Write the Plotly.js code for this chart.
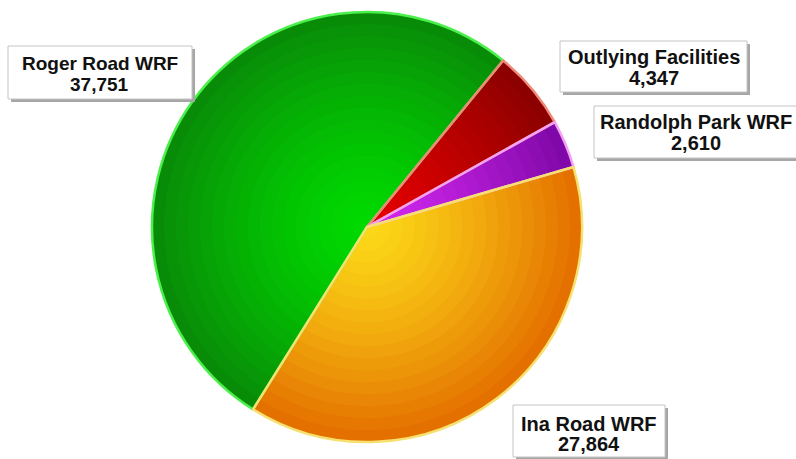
<!DOCTYPE html>
<html>
<head>
<meta charset="utf-8">
<script src="https://cdn.plot.ly/plotly-3.0.1.min.js"></script>
<style>html,body{margin:0;padding:0;background:#fff;}#chart{width:796px;height:459px;}</style>
</head>
<body>
<div id="chart"></div>
<script>
// ---- data ----
const labels = ["Roger Road WRF", "Outlying Facilities", "Randolph Park WRF", "Ina Road WRF"];
const values = [37751, 4347, 2610, 27864];

// ---- styling ----
const centerColors = [[0,220,0],[232,0,0],[212,40,240],[252,218,24]];
const edgeColors   = [[8,140,8],[140,0,0],[128,8,168],[228,112,0]];
const borderColors = ["#4cf04c", "#f08a78", "#f4a0f4", "#f6e070"];
const W = 796, H = 459, CX = 367, CY = 227, R = 215;
const ROT = -148;
// label boxes in pixels: x0,x1,y0,y1 and text line centres
const boxes = [
  {x0:8,   x1:192, y0:46,  y1:99,  l1:64,    l2:85,    fs:19},
  {x0:560, x1:747, y0:41,  y1:92,  l1:57.5,  l2:77.5,  fs:20},
  {x0:594, x1:800, y0:106, y1:158, l1:122.5, l2:142.5, fs:20},
  {x0:513, x1:665, y0:405, y1:457, l1:423.5, l2:444,   fs:20}
];

function dom(f){
  const r = R*f;
  return {x:[(CX-r)/W,(CX+r)/W], y:[1-(CY+r)/H, 1-(CY-r)/H]};
}
function mix(a,b,t){
  return 'rgb('+a.map((v,i)=>Math.round(v+(b[i]-v)*t)).join(',')+')';
}
const px = x => x/W, py = y => 1 - y/H;

const traces = [];
const N = 18;
for (let k=0;k<N;k++){
  const f = 1 - k/N;
  const t = Math.pow(f,1.3);
  traces.push({
    type:'pie', labels:labels, values:values, sort:false, direction:'clockwise',
    rotation:ROT, domain:dom(f), textinfo:'none', hoverinfo:'skip', showlegend:false,
    marker:{colors:centerColors.map((c,i)=>mix(c,edgeColors[i],t)), line:{width:0}}
  });
}
traces.push({
  type:'pie', labels:labels, values:values, sort:false, direction:'clockwise',
  rotation:ROT, domain:dom(1), textinfo:'none', hoverinfo:'skip', showlegend:false,
  marker:{colors:labels.map(()=> 'rgba(0,0,0,0)'), line:{width:2.5, color:borderColors}}
});

const shapes = [];
const annotations = [];
labels.forEach((lab,i)=>{
  const b = boxes[i];
  shapes.push({type:'rect', xref:'paper', yref:'paper', layer:'above',
    x0:px(b.x0+3), x1:px(b.x1+3), y0:py(b.y1+3), y1:py(b.y0+3),
    fillcolor:'#a6a6a6', line:{width:0}});
  shapes.push({type:'rect', xref:'paper', yref:'paper', layer:'above',
    x0:px(b.x0), x1:px(b.x1), y0:py(b.y1), y1:py(b.y0),
    fillcolor:'#ffffff', line:{width:1, color:'#c4c4c4'}});
  const cx = px((b.x0 + Math.min(b.x1, 796+1))/2);
  const font = {family:'Liberation Sans, Arial, sans-serif', size:b.fs, color:'#111111'};
  annotations.push({xref:'paper', yref:'paper', x:cx, y:py(b.l1), xanchor:'center', yanchor:'middle',
    showarrow:false, text:'<b>'+lab+'</b>', font:font});
  annotations.push({xref:'paper', yref:'paper', x:cx, y:py(b.l2), xanchor:'center', yanchor:'middle',
    showarrow:false, text:'<b>'+values[i].toLocaleString('en-US')+'</b>', font:font});
});

Plotly.newPlot('chart', traces, {
  width:W, height:H, margin:{l:0,r:0,t:0,b:0}, paper_bgcolor:'#fff', plot_bgcolor:'#fff',
  showlegend:false, shapes:shapes, annotations:annotations
}, {displayModeBar:false, staticPlot:true});
</script>
</body>
</html>
